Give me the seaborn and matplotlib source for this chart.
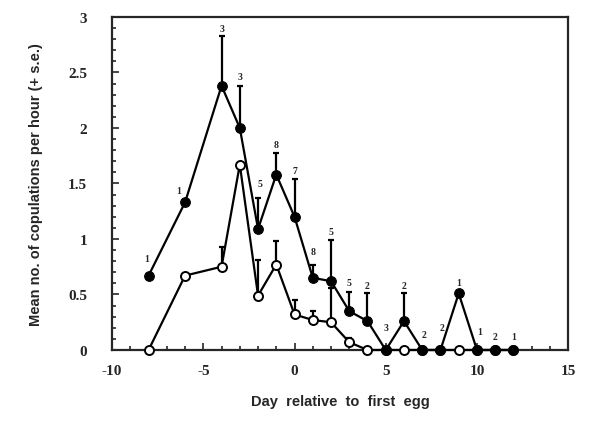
import numpy as np
import pandas as pd
import matplotlib
matplotlib.use("Agg")
import matplotlib.pyplot as plt
import seaborn as sns
from matplotlib.ticker import MultipleLocator

# ---- data ----
days = [-8, -6, -4, -3, -2, -1, 0, 1, 2, 3, 4, 5, 6, 7, 8, 9, 10, 11, 12]
mean_filled = [0.67, 1.33, 2.38, 2.00, 1.09, 1.58, 1.20, 0.65, 0.62, 0.35, 0.26,
               0.0, 0.26, 0.0, 0.0, 0.51, 0.0, 0.0, 0.0]
se_filled = [0.0, 0.0, 0.45, 0.38, 0.28, 0.19, 0.34, 0.12, 0.37, 0.17, 0.25,
             0.0, 0.25, 0.0, 0.0, 0.0, 0.0, 0.0, 0.0]
mean_open = [0.0, 0.67, 0.75, 1.67, 0.49, 0.77, 0.32, 0.27, 0.25, 0.07, 0.0,
             0.0, 0.0, 0.0, 0.0, 0.0, 0.0, 0.0, 0.0]
se_open = [0.0, 0.0, 0.18, 0.0, 0.32, 0.21, 0.13, 0.08, 0.31, 0.04, 0.0,
           0.0, 0.0, 0.0, 0.0, 0.0, 0.0, 0.0, 0.0]
n_pairs = [1, 1, 3, 3, 5, 8, 7, 8, 5, 5, 2, 3, 2, 2, 2, 1, 1, 2, 1]

y_ticks = [0, 0.5, 1, 1.5, 2, 2.5, 3]
y_ticklabels = ["0", "0.5", "1", "1.5", "2", "2.5", "3"]
x_ticks = [-10, -5, 0, 5, 10, 15]
x_ticklabels = ["-10", "-5", "0", "5", "10", "15"]

# label offsets above bar tip (pixels)
label_dy = [17, 12, 7, 9, 14, 9, 9, 13, 9, 10, 8, 22, 8, 15, 22, 11, 18, 13, 13]
label_dx = [-2, -6, 0, 0, 2, 0, 0, 0, 0, 0, 0, 0, 0, 2, 2, 0, 3, 0, 0]

df = pd.DataFrame({"day": days, "filled": mean_filled, "se_f": se_filled,
                   "open": mean_open, "se_o": se_open, "n": n_pairs})

sns.set_theme(style="ticks")
plt.rcParams["font.family"] = ["Liberation Serif", "DejaVu Serif"]
plt.rcParams["axes.unicode_minus"] = False

fig = plt.figure(figsize=(5.9, 4.27), dpi=100)
ax = fig.add_axes([0.19, 0.178, 0.773, 0.78])

lw = 1.6
# upper-only error bars
for col, se in [("open", "se_o"), ("filled", "se_f")]:
    sub = df[df[se] > 0]
    ax.errorbar(sub["day"], sub[col], yerr=[np.zeros(len(sub)), sub[se]],
                fmt="none", ecolor="black", elinewidth=lw, capsize=2.5,
                capthick=lw, zorder=2)

sns.lineplot(data=df, x="day", y="open", ax=ax, color="black", lw=lw,
             marker="o", markersize=6.5, markerfacecolor="white",
             markeredgecolor="black", markeredgewidth=1.4, zorder=3,
             clip_on=False)
sns.lineplot(data=df, x="day", y="filled", ax=ax, color="black", lw=lw,
             marker="o", markersize=7, markerfacecolor="black",
             markeredgecolor="black", zorder=4, clip_on=False)

for d, m, s, n, dy, dx in zip(df["day"], df["filled"], df["se_f"], df["n"],
                              label_dy, label_dx):
    ax.annotate(str(n), (d, m + s), xytext=(dx, dy), textcoords="offset pixels",
                ha="center", va="center", fontsize=7, fontweight="bold",
                family="Liberation Serif")

ax.set_xlim(-10, 15)
ax.set_ylim(0, 3)
ax.set_xticks(x_ticks, x_ticklabels)
ax.set_yticks(y_ticks, y_ticklabels)
ax.xaxis.set_minor_locator(MultipleLocator(1))
ax.yaxis.set_minor_locator(MultipleLocator(0.1))
ax.tick_params(which="both", direction="in", top=False, right=False,
               width=1.2, labelsize=11)
ax.tick_params(which="major", length=5)
ax.tick_params(which="minor", length=3)
ax.tick_params(axis="y", pad=18)
ax.tick_params(axis="x", pad=10)
for lab in ax.get_xticklabels() + ax.get_yticklabels():
    lab.set_fontweight("bold")
for sp in ax.spines.values():
    sp.set_linewidth(1.6)
    sp.set_visible(True)

ax.set_xlabel("Day  relative  to  first  egg", fontsize=10.5, fontweight="bold",
              family="Liberation Sans", labelpad=12)
ax.set_ylabel("Mean no. of copulations per hour (+ s.e.)", fontsize=10.5,
              fontweight="bold", family="Liberation Sans", labelpad=18)

fig.savefig("out.png", dpi=100)
